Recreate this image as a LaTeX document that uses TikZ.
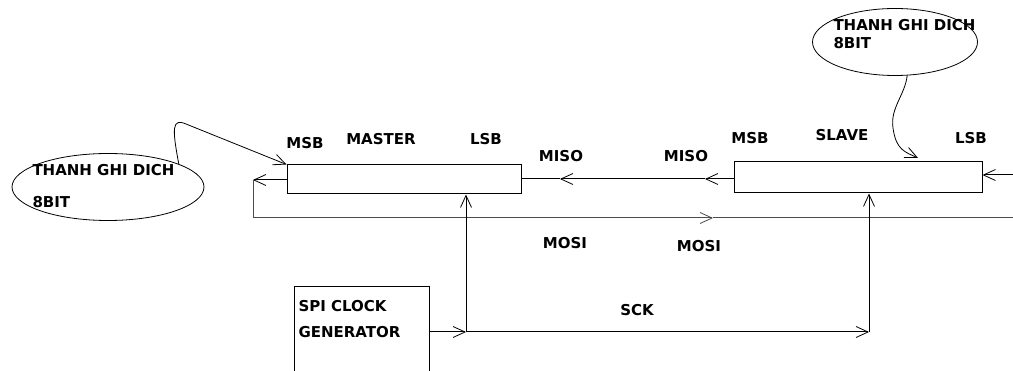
\documentclass[tikz,border=0pt]{standalone}
\usepackage{fontspec}
\setmainfont{DejaVu Sans}
\usetikzlibrary{shapes.geometric,arrows.meta}
\tikzset{
	lbl/.style = {font=\bfseries\fontsize{15}{18}\selectfont, inner sep=0pt},
	reg/.style = {draw, line width=1pt, inner sep=0pt},
	bubble/.style = {draw, ellipse, line width=0.8pt, inner sep=0pt},
	barb/.style = {-{Straight Barb[length=12pt,width=11pt,line width=0.8pt]}},
}
\begin{document}
\begin{tikzpicture}[x=1pt,y=-1pt,line width=1pt]
	\clip (0,0) rectangle (1013,371);
	% shift registers
	\node [reg, minimum width=234pt, minimum height=29pt] (master) at (404,179.5) {};
	\node [reg, minimum width=248pt, minimum height=31pt] (slave) at (858,177.5) {};
	\node [reg, anchor=north west, minimum width=135pt, minimum height=120pt] (clk) at (294,286) {};
	\node [lbl, anchor=north west, align=left] (clktxt) at (298,300) {SPI CLOCK\\[8pt]GENERATOR};
	% labels
	\node [lbl] (mmsb) at (305,143) {MSB};
	\node [lbl] (mname) at (381,139) {MASTER};
	\node [lbl] (mlsb) at (486,139) {LSB};
	\node [lbl] (smsb) at (750,138) {MSB};
	\node [lbl] (sname) at (842,135) {SLAVE};
	\node [lbl] (slsb) at (971,138) {LSB};
	\node [lbl] (miso1) at (561,156) {MISO};
	\node [lbl] (miso2) at (686,156) {MISO};
	\node [lbl] (mosi1) at (565,243) {MOSI};
	\node [lbl] (mosi2) at (699,246) {MOSI};
	\node [lbl] (sck) at (637,310) {SCK};
	% bubbles
	\node [bubble, minimum width=192pt, minimum height=67pt] (ellL) at (108,187) {};
	\node [lbl, anchor=west, align=left] (ellLtxt) at (32,186) {THANH GHI DICH\\[14pt]8BIT};
	\node [bubble, minimum width=165pt, minimum height=67pt] (ellR) at (895,42) {};
	\node [lbl, anchor=west, align=left] (ellRtxt) at (833,34) {THANH GHI DICH\\[0pt]8BIT};
	% MISO
	\coordinate (misoA) at (705,179);
	\coordinate (misoB) at (560,179);
	\draw [barb] (slave.west |- misoA) -- (misoA);
	\draw [barb] (misoA) -- (misoB);
	\draw (misoB) -- (master.east |- misoB);
	\coordinate (sin) at (1013,175);
	\draw [barb] (sin) -- (sin -| slave.east);
	% MOSI
	\coordinate (mosiL) at (253,180);
	\coordinate (mosiM) at (713,218);
	\coordinate (mosiR) at (1013,218);
	\draw [barb] (master.west |- mosiL) -- (mosiL);
	\draw [barb, black!70] (mosiL) |- (mosiM);
	\draw [black!70] (mosiM) -- (mosiR);
	% SCK
	\coordinate (sckJ) at (466,332);
	\coordinate (sckR) at (869,332);
	\draw [barb] (clk.east |- sckJ) -- (sckJ);
	\draw [barb] (sckJ) -- (sckR);
	\draw [barb] (sckJ) -- (master.south -| sckJ);
	\draw [barb] (sckR) -- (slave.south -| sckR);
	% pointers
	\coordinate (tipR) at (918,158);
	\draw [barb, line width=0.8pt] (ellL.18) .. controls (172,128) and (172,118) .. (186,124) -- (master.north west);
	\draw [barb, line width=0.8pt] (ellR.-70) .. controls (905,95) and (890,108) .. (893,128)
		.. controls (896,150) and (905,152) .. (tipR);
\end{tikzpicture}
\end{document}
